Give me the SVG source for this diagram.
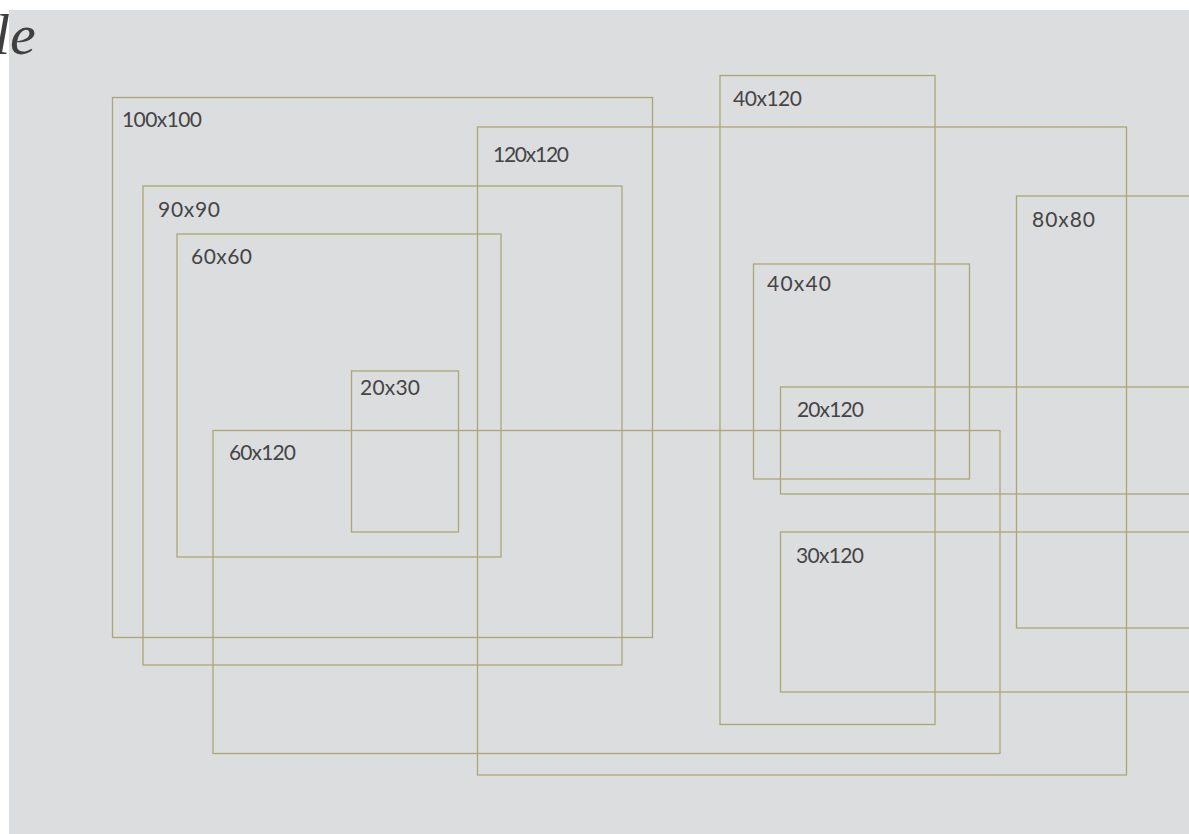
<svg xmlns="http://www.w3.org/2000/svg" width="1189" height="834" viewBox="0 0 1189 834">
<style>
.box{fill:none;stroke:#a9a874;stroke-width:1.3}
.lbl{font-family:Lato,"DejaVu Sans",sans-serif;font-size:21px;fill:#454545}
.title{font-family:"Liberation Serif",serif;font-style:italic;font-size:58px;fill:#3f3f3f}
</style>
<rect x="0" y="0" width="1189" height="834" fill="#ffffff"/>
<rect x="9" y="10" width="1180" height="824" fill="#dcdddf"/>
<text class="title" x="-6" y="54">le</text>
<g id="n100x100"><rect class="box" x="112.5" y="97.5" width="540" height="540"/><text class="lbl" x="122" y="127" textLength="80">100x100</text></g>
<g id="n90x90"><rect class="box" x="143" y="186" width="479" height="479"/><text class="lbl" x="158" y="217" textLength="62">90x90</text></g>
<g id="n60x60"><rect class="box" x="177" y="234" width="324" height="323"/><text class="lbl" x="191" y="264" textLength="61">60x60</text></g>
<g id="n20x30"><rect class="box" x="351.5" y="371" width="107" height="161"/><text class="lbl" x="360" y="395" textLength="60">20x30</text></g>
<g id="n60x120"><rect class="box" x="213" y="430.5" width="787" height="323"/><text class="lbl" x="229" y="460" textLength="67">60x120</text></g>
<g id="n120x120"><rect class="box" x="477.5" y="127" width="649" height="648"/><text class="lbl" x="493" y="162" textLength="76">120x120</text></g>
<g id="n40x120"><rect class="box" x="720" y="75.5" width="215" height="649"/><text class="lbl" x="733" y="106" textLength="69">40x120</text></g>
<g id="n40x40"><rect class="box" x="753.5" y="264" width="216" height="215"/><text class="lbl" x="767" y="291" textLength="64">40x40</text></g>
<g id="n20x120"><rect class="box" x="780.5" y="387" width="648" height="107"/><text class="lbl" x="797" y="417" textLength="67">20x120</text></g>
<g id="n30x120"><rect class="box" x="780.5" y="532" width="648" height="160"/><text class="lbl" x="796" y="563" textLength="68">30x120</text></g>
<g id="n80x80"><rect class="box" x="1016.5" y="196" width="432" height="432"/><text class="lbl" x="1032" y="227" textLength="63">80x80</text></g>
<g id="connectors"/>
</svg>
